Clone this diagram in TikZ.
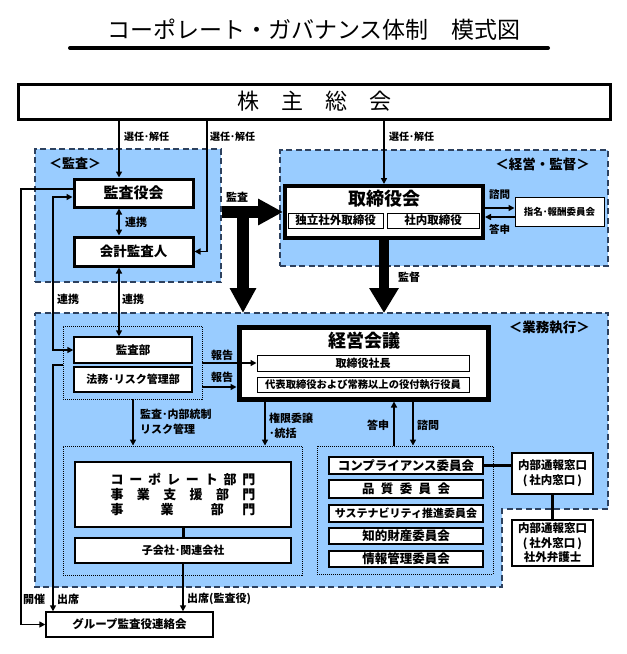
\documentclass[tikz,border=0pt]{standalone}
\usepackage{fontspec}
\setmainfont{Noto Sans CJK JP}
\usetikzlibrary{arrows.meta,calc}
\definecolor{regblue}{RGB}{153,204,255}
\definecolor{regedge}{RGB}{45,65,95}
\newcommand{\myfs}[1]{\fontsize{#1}{#1}\selectfont}
\begin{document}
\begin{tikzpicture}[x=1pt,y=-1pt,
  every node/.style={inner sep=0pt},
  region/.style={fill=regblue, draw=regedge, line width=1.5pt, dash pattern=on 6pt off 3.5pt},
  bigbox/.style={draw, fill=white, line width=3pt, align=center},
  box/.style={draw, fill=white, line width=1.4pt, align=center, font=\bfseries\myfs{11}},
  thinbox/.style={draw, fill=white, line width=1pt, align=center, font=\bfseries\myfs{11}},
  grp/.style={draw, line width=0.9pt, dash pattern=on 1pt off 1pt},
  conn/.style={line width=1.6pt},
  arr/.style={conn, -{Triangle[length=6pt,width=6pt]}},
  darr/.style={conn, {Triangle[length=6pt,width=6pt]}-{Triangle[length=6pt,width=6pt]}},
  lbl/.style={anchor=west, font=\bfseries\myfs{11}},
  fat/.style={line width=12pt, -{Triangle[length=25pt,width=25pt]}},
]
\useasboundingbox (0,0) rectangle (627,654);

% title
\node[font=\myfs{23}] (title) at (314,30) {コーポレート・ガバナンス体制　模式図};
\draw[line width=4pt, line cap=round] (70,48) -- (548,48);

% regions
\node[region, minimum width=186, minimum height=133] (kansaR) at (128,215.5) {};
\node[region, minimum width=328, minimum height=116] (keieiR) at (444,208) {};
\coordinate (gTop) at (35,313);
\draw[region] (gTop) -- (608,313) -- (608,509) -- (502,509) -- (502,587) -- (35,587) -- cycle;
\node[anchor=west, font=\bfseries\myfs{13}] (lkansa) at (49,163) {＜監査＞};
\node[anchor=east, font=\bfseries\myfs{13.5}] (lkeiei) at (590,164) {＜経営・監督＞};
\node[anchor=east, font=\bfseries\myfs{13.5}] (lgyomu) at (590,328) {＜業務執行＞};

% shareholders
\node[bigbox, minimum width=592, minimum height=35, font=\myfs{22}] (kabu) at (314,101.5) {株　主　総　会};

% audit
\node[bigbox, minimum width=119, minimum height=28, font=\bfseries\myfs{15}] (kansayaku) at (133.5,193) {監査役会};
\node[bigbox, minimum width=119, minimum height=29, font=\bfseries\myfs{13.5}] (kaikei) at (133.5,251.5) {会計監査人};

% board
\node[bigbox, line width=4pt, minimum width=198, minimum height=52] (tori) at (384,212) {};
\node[font=\bfseries\myfs{18}] (toriT) at (384,199) {取締役会};
\node[thinbox, minimum width=95, minimum height=15, font=\bfseries\myfs{11.5}] (dokuritsu) at (335.5,220.5) {独立社外取締役};
\node[thinbox, minimum width=92, minimum height=15, font=\bfseries\myfs{11.5}] (shanai) at (433,220.5) {社内取締役};
\node[thinbox, minimum width=89, minimum height=29, font=\bfseries\myfs{9.5}] (shimei) at (559.5,211.5) {指名･報酬委員会};

% management committee
\node[bigbox, line width=5pt, minimum width=249, minimum height=72] (keiei) at (363.5,363) {};
\node[font=\bfseries\myfs{18}] (keieiT) at (364,341) {経営会議};
\node[thinbox, minimum width=212, minimum height=16] (shacho) at (363,363) {取締役社長};
\node[thinbox, minimum width=212, minimum height=15, font=\bfseries\myfs{10.3}] (daihyo) at (363,384.5) {代表取締役および常務以上の役付執行役員};

% audit dept group
\node[grp, minimum width=139, minimum height=73] (auditG) at (132.5,362.5) {};
\node[box, minimum width=118, minimum height=26, font=\bfseries\myfs{11.5}] (kansabu) at (133,350) {監査部};
\node[box, minimum width=118, minimum height=25] (homu) at (133,379.5) {法務･リスク管理部};

% corporate group
\node[grp, minimum width=239, minimum height=129] (corpG) at (182.5,510.5) {};
\node[box, minimum width=216, minimum height=65, font=\bfseries\fontsize{13}{15}\selectfont] (corp) at (183,494.5)
  {\makebox[145pt][s]{コ\hfill ー\hfill ポ\hfill レ\hfill ー\hfill ト\hfill 部\hfill 門}\\
   \makebox[145pt][s]{事\hfill 業\hfill 支\hfill 援\hfill 部\hfill 門}\\
   \makebox[145pt][s]{事\hfill\hfill 業\hfill\hfill 部\hfill 門}};
\node[box, minimum width=216, minimum height=25] (kogaisha) at (183,550.5) {子会社･関連会社};

% committees
\node[grp, minimum width=176, minimum height=128] (commG) at (405,510) {};
\tikzset{cbox/.style={draw, fill=white, line width=1.8pt, minimum width=154, font=\bfseries\myfs{12.5}}}
\node[cbox, minimum height=17] (comp) at (406,465.5) {コンプライアンス委員会};
\node[cbox, minimum height=18] (hinshitsu) at (406,489) {\makebox[88pt][s]{品\hfill 質\hfill 委\hfill 員\hfill 会}};
\node[cbox, minimum height=17, font=\bfseries\myfs{11}] (susta) at (406,513.5) {サステナビリティ推進委員会};
\node[cbox, minimum height=16] (chiteki) at (406,536) {知的財産委員会};
\node[cbox, minimum height=16] (joho) at (406,559) {情報管理委員会};

% whistleblowing
\node[box, line width=1.5pt, minimum width=81, minimum height=41, font=\bfseries\fontsize{11.5}{15}\selectfont] (naibu1) at (552.5,473.5) {内部通報窓口\\(\,社内窓口\,)};
\node[box, line width=1.5pt, minimum width=81, minimum height=46, font=\bfseries\fontsize{11.5}{14.5}\selectfont] (naibu2) at (552.5,543) {内部通報窓口\\(\,社外窓口\,)\\社外弁護士};

% group auditors
\node[box, minimum width=167, minimum height=25, font=\bfseries\myfs{11.5}] (group) at (129.5,624.5) {グループ監査役連絡会};

% helper coordinates
\coordinate (xA) at (119,0);
\coordinate (xB) at (207,0);
\coordinate (xL1) at (21,189);
\coordinate (xL2) at (53,197);
\coordinate (xL2b) at (53,350);
\coordinate (xL3) at (53,365);
\coordinate (tee) at (243,211);
\coordinate (r2) at (0,387);
\coordinate (xK) at (265,0);
\coordinate (xT) at (394,0);
\coordinate (xS) at (413,0);
\coordinate (q1) at ($(shimei.west)+(0,-3.5)$);
\coordinate (q2) at ($(shimei.west)+(0,5.5)$);

% connectors
\draw[arr] (kabu.south -| xA) -- (kansayaku.north -| xA);
\draw[arr] (kabu.south -| xB) |- (kaikei.east);
\draw[arr] (kabu.south -| tori.north) -- (tori.north);
\draw[darr] (kansayaku.south -| xA) -- (kaikei.north -| xA);
\draw[darr] (kaikei.south -| xA) -- (kansabu.north -| xA);
\draw[darr] (kansayaku.west |- xL2) -- (xL2) -- (xL2b) -- (kansabu.west |- xL2b);
\draw[arr] (kansayaku.west |- xL1) -- (xL1) |- (group.west);
\draw[arr] (auditG.west |- xL3) -- (xL3) -- (group.north -| xL3);
\draw[arr] (tori.east |- q1) -- (q1);
\draw[arr] (q2) -- (tori.east |- q2);
\draw[arr] (auditG.east |- shacho.west) -- (shacho.west);
\draw[arr] (auditG.east |- r2) -- (keiei.west |- r2);
\draw[arr] (auditG.south -| kansabu) -- (corpG.north -| kansabu);
\draw[arr] (keiei.south -| xK) -- (corpG.north -| xK);
\draw[arr] (commG.north -| xT) -- (keiei.south -| xT);
\draw[arr] (keiei.south -| xS) -- (commG.north -| xS);
\draw[line width=3pt] (corp.south) -- (kogaisha.north);
\draw[arr] (kogaisha.south) -- (kogaisha.south |- group.north);
\draw[line width=2.5pt] (comp.east) -- (naibu1.west |- comp.east);
\draw[line width=2.5pt] (naibu1.south) -- (naibu2.north);

% fat arrows
\draw[fat] (kansaR.east |- tori.west) -- (tori.west);
\draw[fat] (tee) -- (tee |- gTop);
\draw[line width=10pt, -{Triangle[length=25pt,width=28pt]}] (tori.south) -- (tori.south |- gTop);

% labels
\node[lbl, font=\bfseries\myfs{10}] (s1) at (124,137) {選任･解任};
\node[lbl, font=\bfseries\myfs{10}] (s2) at (210,137) {選任･解任};
\node[lbl, font=\bfseries\myfs{10}] (s3) at (389,137) {選任･解任};
\node[lbl] (rk1) at (125,222) {連携};
\node[lbl] (rk2) at (57,299) {連携};
\node[lbl] (rk3) at (122,299) {連携};
\node[lbl] (lkansa2) at (226,197) {監査};
\node[lbl, font=\bfseries\myfs{10.5}] (ls1) at (489,195) {諮問};
\node[lbl, font=\bfseries\myfs{10.5}] (lt1) at (489,229) {答申};
\node[lbl] (lkantoku) at (398,277) {監督};
\node[lbl] (lh1) at (211,355) {報告};
\node[lbl] (lh2) at (211,377) {報告};
\node[lbl] (lna1) at (140,414) {監査･内部統制};
\node[lbl] (lna2) at (140,429) {リスク管理};
\node[lbl] (lke1) at (269,418) {権限委譲};
\node[lbl] (lke2) at (269,433) {･統括};
\node[lbl] (lt2) at (367,425) {答申};
\node[lbl] (ls2) at (417,425) {諮問};
\node[lbl] (lkaisai) at (23,599) {開催};
\node[lbl] (lshu1) at (57,599) {出席};
\node[lbl] (lshu2) at (187,599) {出席(監査役)};
\end{tikzpicture}
\end{document}
